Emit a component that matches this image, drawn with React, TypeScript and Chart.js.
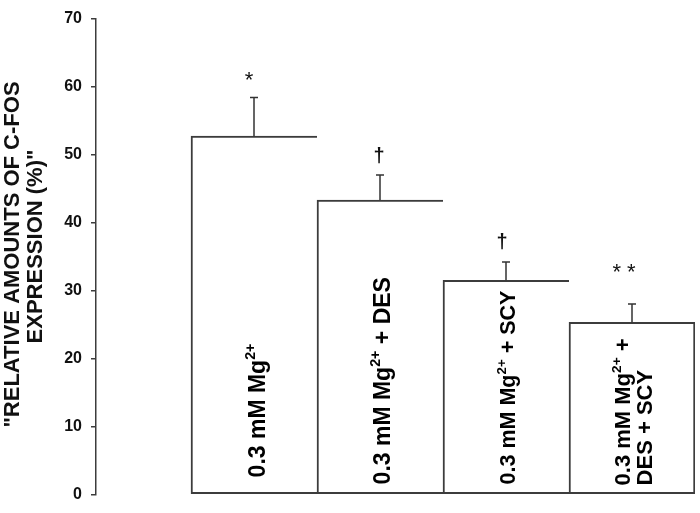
import React, { useEffect, useRef } from "react";
import { Chart, registerables } from "chart.js";

Chart.register(...registerables);

// ---- data ----
const categories = [
  "0.3 mM Mg²⁺",
  "0.3 mM Mg²⁺ + DES",
  "0.3 mM Mg²⁺ + SCY",
  "0.3 mM Mg²⁺ +\nDES + SCY",
];
const values = [52.7, 43.3, 31.5, 25.3];
const errors = [5.7, 3.7, 2.7, 2.7];
const markers = ["*", "†", "†", "* *"];
const markerValues = [61.0, 49.7, 37.1, 32.7];
const yTitleLines = ['"RELATIVE AMOUNTS OF C-FOS', 'EXPRESSION (%)"'];
const yMin = 0;
const yMax = 70;
const yStep = 10;

// ---- styling / layout ----
const FONT = "'Liberation Sans', Arial, Helvetica, sans-serif";
const INK = "#3c3c3c";
const labelStyle = [
  { size: 23, dx: [11], gap: 17 },
  { size: 23, dx: [10], gap: 10 },
  { size: 21.5, dx: [9], gap: 10 },
  { size: 22, dx: [-2, 20], gap: 9 },
];
const markerDx = [-5, -1, -4, -8];

function drawRich(ctx: CanvasRenderingContext2D, text: string, size: number) {
  const parts = text.split("²⁺");
  let u = 0;
  parts.forEach((p, i) => {
    ctx.font = `bold ${size}px ${FONT}`;
    ctx.fillText(p, u, 0);
    u += ctx.measureText(p).width;
    if (i < parts.length - 1) {
      const s = size * 0.62;
      ctx.font = `bold ${s}px ${FONT}`;
      ctx.fillText("2+", u, -size * 0.42);
      u += ctx.measureText("2+").width;
    }
  });
}

const annotationPlugin = {
  id: "annot",
  afterDatasetsDraw(chart: any) {
    const ctx: CanvasRenderingContext2D = chart.ctx;
    const meta = chart.getDatasetMeta(0);
    const ys = chart.scales.y;
    ctx.save();
    meta.data.forEach((bar: any, i: number) => {
      const cx = bar.x;
      // error bar
      const yTop = ys.getPixelForValue(values[i] + errors[i]);
      ctx.strokeStyle = "#333";
      ctx.lineWidth = 1.5;
      ctx.beginPath();
      ctx.moveTo(cx, bar.y);
      ctx.lineTo(cx, yTop);
      ctx.moveTo(cx - 4, yTop);
      ctx.lineTo(cx + 4, yTop);
      ctx.stroke();
      // marker
      ctx.fillStyle = "#111";
      ctx.textAlign = "center";
      ctx.textBaseline = "middle";
      const isDagger = markers[i].includes("†");
      ctx.font = isDagger ? `bold 20px ${FONT}` : `22px ${FONT}`;
      const my = ys.getPixelForValue(markerValues[i]) + (isDagger ? 0 : 1);
      ctx.fillText(markers[i], cx + markerDx[i], my);
      // rotated label inside bar
      const st = labelStyle[i];
      const lines = categories[i].split("\n");
      const bottom = ys.getPixelForValue(0) - st.gap;
      lines.forEach((ln, k) => {
        ctx.save();
        ctx.translate(cx + st.dx[k], bottom);
        ctx.rotate(-Math.PI / 2);
        ctx.textAlign = "left";
        ctx.textBaseline = "alphabetic";
        ctx.fillStyle = "#000";
        drawRich(ctx, ln, st.size);
        ctx.restore();
      });
    });
    // y axis title
    const midY = [254.5, 246.5];
    const colX = [19, 42];
    yTitleLines.forEach((t, k) => {
      ctx.save();
      ctx.translate(colX[k], midY[k]);
      ctx.rotate(-Math.PI / 2);
      ctx.font = `bold 22px ${FONT}`;
      ctx.fillStyle = "#111";
      ctx.textAlign = "center";
      ctx.textBaseline = "alphabetic";
      ctx.fillText(t, 0, 0);
      ctx.restore();
    });
    ctx.restore();
  },
};

export default function App() {
  const ref = useRef<HTMLCanvasElement | null>(null);
  useEffect(() => {
    if (!ref.current) return;
    const chart = new Chart(ref.current, {
      type: "bar",
      data: {
        datasets: [
          {
            data: values.map((v, i) => ({ x: i + 0.5, y: v })),
            backgroundColor: "#ffffff",
            borderColor: INK,
            borderWidth: (c: any) => ({
              top: 2,
              bottom: 2,
              left: 2,
              right: c.dataIndex === values.length - 1 ? 2 : 0,
            }),
            borderSkipped: false,
            barPercentage: 1,
            categoryPercentage: 1,
          } as any,
        ],
      },
      options: {
        animation: false,
        responsive: false,
        maintainAspectRatio: false,
        layout: { padding: { top: 12, bottom: 11, right: 5, left: 0 } },
        plugins: { legend: { display: false }, tooltip: { enabled: false } },
        scales: {
          x: {
            type: "linear",
            display: false,
            offset: false,
            grid: { offset: false },
            min: -0.754,
            max: categories.length,
            afterBuildTicks: (s: any) => {
              s.ticks = categories.map((_, i) => ({ value: i + 0.5 }));
            },
          },
          y: {
            min: yMin,
            max: yMax,
            afterFit: (s: any) => {
              s.width = 96;
            },
            ticks: {
              stepSize: yStep,
              padding: 9,
              color: "#111",
              font: { family: FONT, size: 16, weight: "bold" },
            },
            grid: {
              drawOnChartArea: false,
              drawTicks: true,
              tickLength: 5,
              color: INK,
              lineWidth: 1.5,
            },
            border: { display: true, color: INK, width: 1.5 },
          },
        },
      } as any,
      plugins: [annotationPlugin],
    });
    return () => chart.destroy();
  }, []);
  return (
    <div style={{ position: "absolute", left: 0, top: 0, width: 700, height: 513, background: "#fff" }}>
      <canvas ref={ref} width={700} height={513} style={{ display: "block" }} />
    </div>
  );
}
